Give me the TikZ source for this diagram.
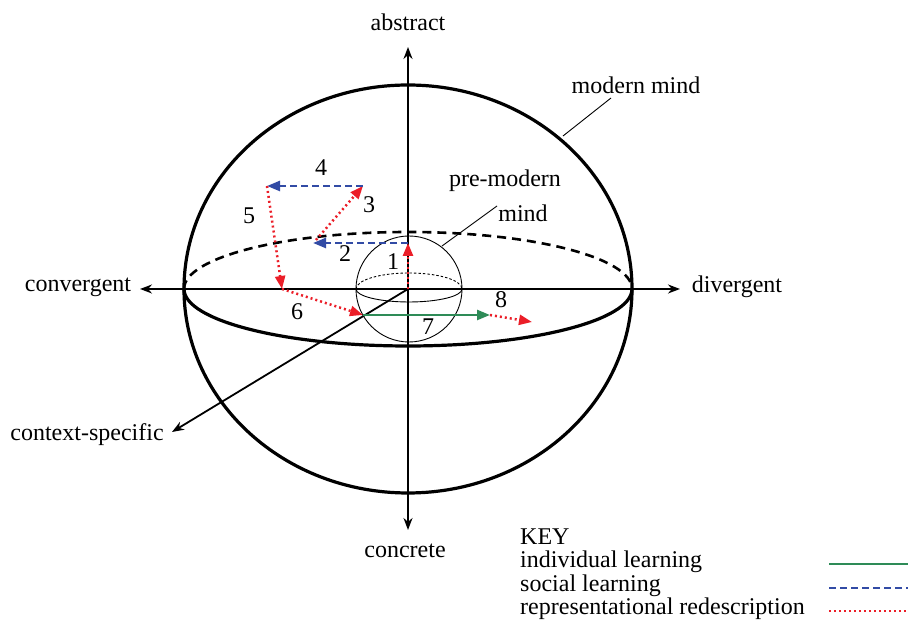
\documentclass[tikz,border=0pt]{standalone}
\usepackage{fontspec}
\setmainfont{Liberation Serif}
\usetikzlibrary{arrows.meta}
\definecolor{lgreen}{RGB}{46,139,87}
\definecolor{lblue}{RGB}{50,75,165}
\definecolor{lred}{RGB}{235,30,40}
\begin{document}
\begin{tikzpicture}[x=1pt,y=1pt,
  lbl/.style={font=\fontsize{24}{28}\selectfont, inner sep=0pt},
  keytxt/.style={lbl, anchor=base west, text height=14pt, text depth=4pt},
  axis/.style={line width=1.8pt, -{Stealth[length=12pt,width=9pt]}},
  indiv/.style={lgreen, line width=2.5pt, -{Triangle[length=13pt,width=10pt]}},
  social/.style={lblue, line width=2.5pt, dash pattern=on 7pt off 4pt, -{Triangle[length=13pt,width=10pt]}},
  redesc/.style={lred, line width=2.5pt, dash pattern=on 2pt off 3pt, -{Triangle[length=13pt,width=10pt]}},
  leader/.style={line width=0.9pt}]
\useasboundingbox (0,0) rectangle (908,620);
% centre
\coordinate (O) at (408,331);
% outer sphere
\draw[line width=3.2pt] (O) ellipse [x radius=224, y radius=204];
\draw[line width=3.2pt] (184,331) arc[start angle=180, end angle=360, x radius=224, y radius=57];
\draw[line width=2.6pt, dash pattern=on 9pt off 6pt] (184,331) arc[start angle=180, end angle=0, x radius=224, y radius=57];
% inner sphere
\draw[line width=0.9pt] (409,331) circle[radius=53];
\draw[line width=0.9pt] (356,331) arc[start angle=180, end angle=360, x radius=53, y radius=13];
\draw[line width=0.9pt, dash pattern=on 2.5pt off 2pt] (356,331) arc[start angle=180, end angle=0, x radius=53, y radius=16];
% axis labels
\node[lbl] (abs) at (408,598) {abstract};
\node[lbl] (con) at (405,69) {concrete};
\node[lbl] (cvg) at (78,333) {convergent};
\node[lbl] (dvg) at (737,333) {divergent};
\node[lbl] (ctx) at (87,185) {context-specific};
\coordinate (top) at (408,573);
\coordinate (bot) at (408,90);
\coordinate (lft) at (140,331);
\coordinate (rgt) at (680,331);
\coordinate (dia) at (172,188);
\draw[axis] (O) -- (top);
\draw[axis] (O) -- (bot);
\draw[axis] (O) -- (lft);
\draw[axis] (O) -- (rgt);
\draw[axis] (O) -- (dia);
% path points
\coordinate (p1) at (408,377);
\coordinate (p2) at (313,377);
\coordinate (p2b) at (316,380);
\coordinate (p3) at (363,434);
\coordinate (p4) at (267,434);
\coordinate (p5) at (282,331);
\coordinate (p6) at (363,305);
\coordinate (p7) at (490,305);
\coordinate (p8) at (532,298);
\draw[redesc] (O) -- (p1);
\draw[social] (p1) -- (p2);
\draw[redesc] (p2b) -- (p3);
\draw[social] (p3) -- (p4);
\draw[redesc] (p4) -- (p5);
\draw[redesc] (p5) -- (p6);
\draw[indiv] (p6) -- (p7);
\draw[redesc] (p7) -- (p8);
% numbers
\node[lbl] (n1) at (393,358) {1};
\node[lbl] (n2) at (345,366) {2};
\node[lbl] (n3) at (369,415) {3};
\node[lbl] (n4) at (321,452) {4};
\node[lbl] (n5) at (249,404) {5};
\node[lbl] (n6) at (297,308) {6};
\node[lbl] (n7) at (428,293) {7};
\node[lbl] (n8) at (501,320) {8};
% mind labels
\node[lbl] (mm) at (636,535) {modern mind};
\coordinate (mmA) at (611,522);
\coordinate (mmB) at (563,484);
\draw[leader] (mmA) -- (mmB);
\node[lbl] (pm1) at (505,439) {pre-modern};
\node[lbl] (pm2) at (523,407) {mind};
\coordinate (pmA) at (497,414);
\coordinate (pmB) at (442,374);
\draw[leader] (pmA) -- (pmB);
% key
\node[keytxt] (k0) at (520,75) {KEY};
\node[keytxt] (k1) at (520,52) {individual learning};
\node[keytxt] (k2) at (520,28) {social learning};
\node[keytxt] (k3) at (520,5) {representational redescription};
\coordinate (k1a) at (829,56); \coordinate (k1b) at (908,56);
\coordinate (k2a) at (829,32); \coordinate (k2b) at (908,32);
\coordinate (k3a) at (829,9);  \coordinate (k3b) at (908,9);
\draw[lgreen, line width=2.6pt] (k1a) -- (k1b);
\draw[lblue, line width=2.6pt, dash pattern=on 7pt off 4pt] (k2a) -- (k2b);
\draw[lred, line width=2.6pt, dash pattern=on 2pt off 3pt] (k3a) -- (k3b);
\end{tikzpicture}
\end{document}
